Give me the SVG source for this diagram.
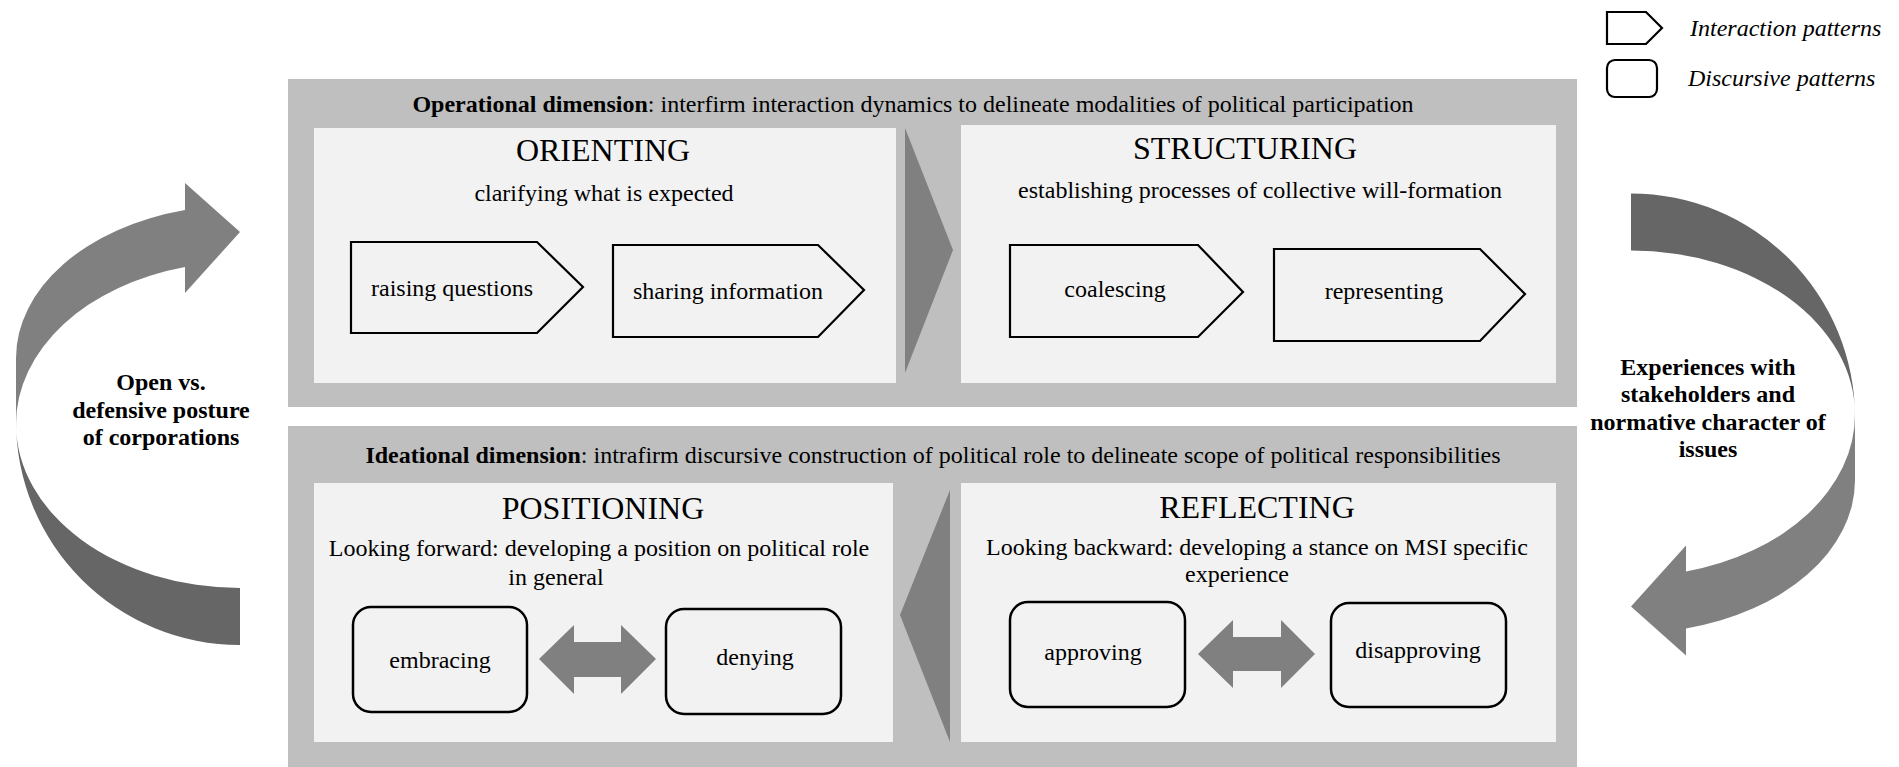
<svg xmlns="http://www.w3.org/2000/svg" xmlns:xlink="http://www.w3.org/1999/xlink" width="1899" height="767" viewBox="0 0 1899 767">
  <style>
    text { font-family: "Liberation Serif", "Times New Roman", serif; fill: #000; }
    .hdr { font-size: 24px; text-anchor: middle; }
    .hdr .b { font-weight: bold; }
    .title { font-size: 32px; text-anchor: middle; }
    .sub { font-size: 24px; text-anchor: middle; }
    .lbl { font-size: 24px; text-anchor: middle; }
    .side { font-size: 24px; font-weight: bold; text-anchor: middle; }
    .legend { font-size: 24px; font-style: italic; }
    .band { fill: #bfbfbf; }
    .stage { fill: #f2f2f2; }
    .pent { fill: #f2f2f2; stroke: #000; stroke-width: 2.2; stroke-linejoin: miter; }
    .disc { fill: #f2f2f2; stroke: #000; stroke-width: 2.5; }
    .legend-shape { fill: #ffffff; stroke: #000; stroke-width: 2.2; }
    .chev { fill: #808080; }
    .dbl { fill: #808080; }
    .curl-light { fill: #808080; }
    .curl-dark { fill: #666666; }
  </style>
  <defs>
    <!-- curved ribbon arrow: light front face carries the head, dark back face carries the tail -->
    <g id="curl">
      <path class="curl-light" d="M185,267 L185,293 L240,232 L185,183 L185,210 A224,153 0 0 0 16,358 L16,424 A224,162 0 0 1 185,267 Z"/>
      <path class="curl-dark" d="M16,421 A224,224 0 0 0 240,645 L240,588 A224,164 0 0 1 16,424 Z"/>
    </g>
  </defs>

  <rect width="1899" height="767" fill="#ffffff"/>

  <!-- legend -->
  <g id="legend">
    <path class="legend-shape" d="M1607,12 H1646 L1662,28 L1646,44 H1607 Z"/>
    <text class="legend" x="1690" y="36">Interaction patterns</text>
    <rect class="legend-shape" x="1607" y="60" width="50" height="37" rx="8"/>
    <text class="legend" x="1688" y="86">Discursive patterns</text>
  </g>

  <!-- operational dimension band -->
  <g id="operational">
    <rect class="band" x="288" y="79" width="1289" height="328"/>
    <text class="hdr" x="913" y="112"><tspan class="b">Operational dimension</tspan>: interfirm interaction dynamics to delineate modalities of political participation</text>
  </g>

  <g id="orienting">
    <rect class="stage" x="314" y="128" width="582" height="255"/>
    <text class="title" x="603" y="161">ORIENTING</text>
    <text class="sub" x="604" y="201">clarifying what is expected</text>
  </g>
  <g id="raising-questions">
    <path class="pent" d="M351,242 H537 L583,287 L537,333 H351 Z"/>
    <text class="lbl" x="452" y="296">raising questions</text>
  </g>
  <g id="sharing-information">
    <path class="pent" d="M613,245 H818 L864,290 L818,337 H613 Z"/>
    <text class="lbl" x="728" y="299">sharing information</text>
  </g>

  <g id="structuring">
    <rect class="stage" x="961" y="125" width="595" height="258"/>
    <text class="title" x="1245" y="159">STRUCTURING</text>
    <text class="sub" x="1260" y="198">establishing processes of collective will-formation</text>
  </g>
  <g id="coalescing">
    <path class="pent" d="M1010,245 H1198 L1243,292 L1198,337 H1010 Z"/>
    <text class="lbl" x="1115" y="297">coalescing</text>
  </g>
  <g id="representing">
    <path class="pent" d="M1274,249 H1480 L1525,294 L1480,341 H1274 Z"/>
    <text class="lbl" x="1384" y="299">representing</text>
  </g>

  <!-- ideational dimension band -->
  <g id="ideational">
    <rect class="band" x="288" y="426" width="1289" height="341"/>
    <text class="hdr" x="933" y="463"><tspan class="b">Ideational dimension</tspan>: intrafirm discursive construction of political role to delineate scope of political responsibilities</text>
  </g>

  <g id="positioning">
    <rect class="stage" x="314" y="483" width="579" height="259"/>
    <text class="title" x="603" y="519">POSITIONING</text>
    <text class="sub" x="599" y="556">Looking forward: developing a position on political role</text>
    <text class="sub" x="556" y="585">in general</text>
  </g>
  <g id="embracing">
    <rect class="disc" x="353" y="607" width="174" height="105" rx="18"/>
    <text class="lbl" x="440" y="668">embracing</text>
  </g>
  <g id="denying">
    <rect class="disc" x="666" y="609" width="175" height="105" rx="18"/>
    <text class="lbl" x="755" y="665">denying</text>
  </g>

  <g id="reflecting">
    <rect class="stage" x="961" y="483" width="595" height="259"/>
    <text class="title" x="1257" y="518">REFLECTING</text>
    <text class="sub" x="1257" y="555">Looking backward: developing a stance on MSI specific</text>
    <text class="sub" x="1237" y="582">experience</text>
  </g>
  <g id="approving">
    <rect class="disc" x="1010" y="602" width="175" height="105" rx="18"/>
    <text class="lbl" x="1093" y="660">approving</text>
  </g>
  <g id="disapproving">
    <rect class="disc" x="1331" y="603" width="175" height="104" rx="18"/>
    <text class="lbl" x="1418" y="658">disapproving</text>
  </g>

  <!-- connectors -->
  <g id="connectors">
    <polygon class="chev" points="905,128 953,250 905,373"/>
    <polygon class="chev" points="950,490 900,615 950,742"/>
    <polygon class="dbl" points="539,659 574,625 574,642 621,642 621,625 656,659 621,694 621,677 574,677 574,694"/>
    <polygon class="dbl" points="1198,654 1233,620 1233,637 1281,637 1281,620 1315,654 1281,688 1281,671 1233,671 1233,688"/>
    <use xlink:href="#curl" href="#curl"/>
    <use xlink:href="#curl" href="#curl" transform="translate(1871,838.5) rotate(180)"/>
  </g>

  <!-- loop labels -->
  <g id="posture-label">
    <text class="side" x="161" y="390">Open vs.</text>
    <text class="side" x="161" y="418">defensive posture</text>
    <text class="side" x="161" y="445">of corporations</text>
  </g>
  <g id="experience-label">
    <text class="side" x="1708" y="375">Experiences with</text>
    <text class="side" x="1708" y="402">stakeholders and</text>
    <text class="side" x="1708" y="430">normative character of</text>
    <text class="side" x="1708" y="457">issues</text>
  </g>
</svg>
